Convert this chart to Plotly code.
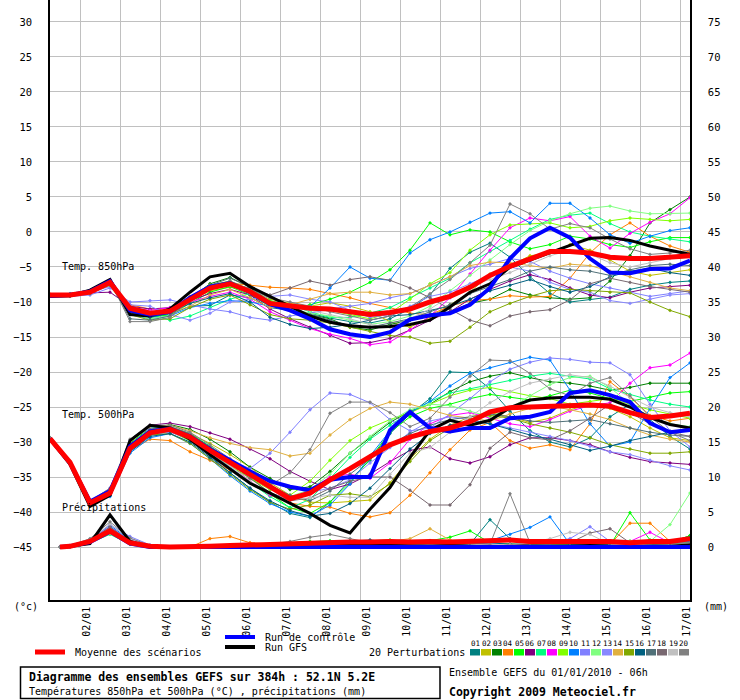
import plotly.graph_objects as go

# time axis (hours after 01/01/2010 06h), 12h steps
HOURS = list(range(0, 385, 12))
PR_HOURS = [6] + HOURS[1:]
DATE_TICKS = list(range(18, 379, 24))
DATE_LABELS = ["02/01", "03/01", "04/01", "05/01", "06/01", "07/01", "08/01", "09/01",
               "10/01", "11/01", "12/01", "13/01", "14/01", "15/01", "16/01", "17/01"]

TEMP_TICKS = [-45, -40, -35, -30, -25, -20, -15, -10, -5, 0, 5, 10, 15, 20, 25, 30]
MM_TICKS = [0, 5, 10, 15, 20, 25, 30, 35, 40, 45, 50, 55, 60, 65, 70, 75]

MEMBER_COLORS = ["#008080", "#C0C000", "#008000", "#FF8000", "#00FF00", "#800080", "#00FF80",
                 "#FF00FF", "#80FF00", "#0080FF", "#8080FF", "#80FF80", "#8888FF", "#E0B040",
                 "#80A800", "#006080", "#507078", "#786870", "#C0C0C0", "#808080"]

# ---- 850 hPa ----
mean_850 = [-9.0, -9.0, -8.6, -7.2, -10.9, -11.6, -11.3, -9.6, -8.0, -7.4, -8.5, -10.2, -10.6, -10.9, -11.0, -11.4,
            -11.8, -11.5, -11.0, -10.0, -9.2, -7.9, -6.2, -4.9, -3.8, -2.8, -2.8, -3.0, -3.6, -3.8, -3.8, -3.6, -3.4]
ctrl_850 = [-9.1, -9.0, -8.5, -7.0, -11.2, -11.8, -11.4, -9.4, -7.8, -7.3, -8.6, -10.3, -11.2, -12.4, -13.9, -14.6,
            -15.0, -14.3, -12.5, -11.9, -11.6, -10.4, -8.0, -3.8, -0.9, 0.6, -0.8, -3.8, -5.8, -5.9, -5.3, -5.2, -4.1]
gfs_850 = [-9.2, -9.1, -8.3, -6.8, -11.8, -12.0, -11.0, -8.6, -6.4, -5.9, -7.8, -9.2, -10.6, -12.0, -12.9, -13.4,
           -13.6, -13.5, -13.2, -12.6, -10.7, -8.6, -7.4, -5.0, -4.0, -2.9, -1.9, -0.9, -0.8, -1.2, -2.0, -2.6, -3.2]
pert_850 = [
    [-9.0, -9.1, -8.8, -7.4, -11.5, -12.0, -11.8, -10.6, -10.5, -9.0, -9.4, -10.8, -11.2, -11.6, -12.3, -12.8, -13.0, -12.4, -11.0, -9.0, -5.2, -2.9, -1.6, -3.6, -6.4, -8.8, -10.0, -9.6, -9.3, -8.2, -7.6, -7.2, -7.0],
    [-9.1, -9.0, -8.5, -7.0, -11.3, -11.9, -11.5, -9.8, -8.4, -7.9, -8.3, -9.6, -10.2, -10.6, -10.1, -10.6, -11.4, -12.8, -13.6, -12.2, -10.4, -8.6, -6.0, -4.8, -3.4, -3.0, -1.8, -2.6, -4.0, -5.6, -6.2, -5.8, -5.4],
    [-9.0, -8.9, -8.4, -7.1, -10.8, -11.4, -11.2, -9.5, -7.4, -6.5, -7.9, -10.4, -11.2, -11.8, -12.4, -13.6, -14.0, -13.2, -12.6, -12.0, -11.4, -10.2, -9.6, -8.2, -9.0, -9.4, -9.6, -9.4, -7.0, -3.4, 1.3, 3.2, 5.0],
    [-8.9, -9.0, -8.6, -7.3, -10.4, -11.0, -11.0, -9.2, -7.6, -7.3, -7.6, -7.9, -8.0, -8.2, -8.8, -9.4, -10.2, -10.8, -11.6, -11.8, -10.6, -9.8, -9.6, -9.1, -9.3, -9.2, -6.6, -3.0, -0.4, 1.3, -0.6, -2.0, -2.9],
    [-9.0, -9.1, -8.7, -7.5, -11.6, -12.2, -11.8, -10.2, -8.6, -7.8, -9.0, -10.6, -11.0, -10.4, -9.6, -8.6, -7.2, -5.4, -2.6, 1.3, -0.4, 0.3, 0.0, -1.4, -2.4, -1.8, -0.6, -1.0, -1.8, -2.2, -1.4, -0.8, -0.8],
    [-9.0, -9.0, -8.7, -8.6, -10.6, -11.0, -10.8, -9.8, -8.8, -8.2, -9.0, -11.0, -12.4, -13.6, -14.8, -15.9, -15.8, -15.2, -14.0, -12.6, -11.4, -9.6, -8.2, -7.0, -6.1, -6.8, -8.0, -9.0, -9.4, -8.6, -8.0, -7.8, -7.6],
    [-9.1, -9.0, -8.5, -7.2, -11.4, -11.8, -12.6, -12.0, -10.8, -9.6, -8.8, -9.8, -10.4, -11.4, -12.2, -12.2, -11.6, -10.8, -9.4, -8.0, -6.6, -4.4, -2.8, -1.2, 0.4, 1.8, 2.4, 2.7, 1.2, 0.0, -0.6, -1.0, -1.4],
    [-9.0, -9.0, -8.6, -7.4, -10.8, -11.2, -10.8, -10.0, -9.2, -8.6, -9.6, -11.4, -12.6, -13.8, -14.6, -15.2, -16.1, -15.7, -14.0, -12.0, -9.4, -6.0, -2.6, 0.6, 2.0, 1.6, 2.2, -0.6, -2.3, -0.2, 1.4, 2.6, 4.9],
    [-9.0, -9.1, -8.7, -7.4, -11.2, -11.8, -11.4, -9.4, -7.6, -7.0, -8.2, -9.8, -10.6, -10.8, -11.2, -11.8, -12.4, -11.6, -9.6, -7.4, -5.8, -2.6, -0.4, 1.0, 1.2, 1.3, 0.6, 0.8, 1.6, 2.0, 1.8, 1.6, 1.8],
    [-9.0, -8.8, -8.4, -7.0, -11.8, -12.4, -12.0, -10.8, -10.2, -9.8, -10.0, -10.6, -11.0, -10.7, -8.0, -5.0, -6.6, -6.9, -3.0, -1.1, 0.0, 1.4, 2.7, 2.9, 1.3, 4.1, 4.1, 2.0, -0.4, -1.6, -0.6, 0.2, 0.6],
    [-9.0, -9.2, -9.0, -8.0, -10.0, -9.8, -9.7, -10.4, -11.0, -11.4, -12.2, -12.6, -12.0, -11.6, -11.0, -10.6, -10.2, -9.4, -8.8, -7.6, -6.4, -5.2, -4.6, -3.8, -4.2, -5.6, -6.6, -7.4, -8.0, -8.6, -9.2, -8.8, -8.4],
    [-9.1, -9.0, -8.7, -7.3, -11.6, -12.4, -12.0, -10.0, -8.2, -7.6, -8.8, -10.2, -11.0, -11.6, -12.0, -12.6, -13.2, -12.8, -12.0, -10.6, -8.4, -6.2, -4.0, -1.8, 0.2, 1.6, 2.6, 3.4, 3.7, 3.0, 2.6, 2.6, 2.7],
    [-9.0, -9.1, -8.6, -7.8, -10.4, -10.6, -11.8, -12.6, -11.6, -10.0, -9.6, -9.2, -9.0, -9.6, -10.0, -11.2, -12.2, -11.8, -10.6, -9.2, -8.6, -7.4, -6.2, -5.0, -5.6, -7.2, -8.2, -8.6, -9.8, -10.2, -9.6, -9.0, -8.8],
    [-9.0, -9.0, -8.5, -7.1, -11.0, -11.6, -11.6, -10.6, -9.0, -8.2, -9.4, -10.8, -10.4, -9.6, -8.8, -8.6, -8.6, -9.0, -8.8, -7.6, -6.4, -4.8, -4.3, -4.4, -4.8, -5.2, -4.6, -4.8, -5.6, -6.4, -7.2, -8.0, -8.4],
    [-9.1, -9.1, -8.8, -7.6, -11.8, -12.6, -12.4, -10.8, -9.6, -9.0, -10.4, -11.8, -12.4, -12.6, -13.0, -13.6, -14.2, -14.8, -15.0, -15.9, -15.6, -13.6, -11.4, -10.2, -9.2, -8.4, -8.2, -8.4, -8.6, -8.7, -10.0, -11.2, -12.1],
    [-9.0, -9.0, -8.6, -7.2, -11.4, -12.2, -11.6, -10.2, -9.4, -8.8, -10.0, -12.2, -13.2, -13.8, -13.6, -13.2, -12.6, -12.0, -11.8, -11.2, -10.6, -9.6, -8.4, -7.6, -6.8, -7.8, -8.6, -7.8, -6.4, -5.6, -5.2, -5.8, -6.2],
    [-9.0, -9.1, -8.7, -7.2, -12.4, -12.6, -12.0, -9.6, -7.6, -6.6, -7.8, -10.0, -10.8, -11.8, -12.6, -13.4, -13.6, -13.0, -12.4, -11.4, -10.4, -8.8, -7.8, -6.8, -5.6, -5.0, -5.4, -5.6, -6.2, -5.4, -4.8, -4.6, -4.8],
    [-9.0, -9.0, -8.6, -7.0, -11.6, -12.0, -11.6, -9.8, -8.2, -7.4, -8.0, -9.0, -8.0, -7.0, -7.6, -6.8, -6.4, -6.9, -8.0, -9.4, -11.0, -12.6, -13.4, -12.0, -11.4, -11.1, -9.7, -7.4, -6.6, -7.2, -7.8, -8.2, -8.6],
    [-9.0, -9.0, -8.6, -7.3, -11.0, -11.4, -11.4, -9.6, -8.0, -7.2, -8.4, -10.2, -10.8, -11.2, -11.8, -12.4, -13.2, -13.6, -12.4, -11.0, -9.2, -7.6, -6.8, -5.8, -4.6, -3.4, -2.6, -3.2, -4.4, -5.0, -4.4, -3.8, -3.6],
    [-9.0, -9.0, -8.5, -6.9, -12.8, -12.8, -12.2, -9.8, -7.8, -7.0, -8.2, -9.4, -10.0, -10.6, -11.4, -12.0, -12.6, -12.0, -10.8, -8.8, -6.8, -4.4, -1.9, 4.0, 2.6, 0.4, 1.2, 0.6, -1.0, -2.4, -3.2, -3.0, -2.6],
]

# ---- 500 hPa ----
mean_500 = [-29.5, -32.9, -38.7, -37.3, -30.9, -28.7, -28.2, -29.3, -31.2, -32.9, -34.6, -36.4, -38.1, -37.3, -35.4, -33.8,
            -32.0, -30.4, -29.3, -28.5, -28.0, -27.1, -25.7, -25.1, -25.0, -24.9, -24.8, -24.7, -24.9, -25.8, -26.5, -26.3, -25.9]
ctrl_500 = [-29.5, -33.0, -38.5, -37.0, -30.6, -28.5, -28.1, -29.2, -31.0, -32.6, -34.2, -35.6, -36.4, -36.9, -35.4, -35.0,
            -35.0, -28.3, -25.7, -28.0, -28.5, -28.0, -28.0, -26.6, -26.4, -25.7, -23.0, -22.6, -23.3, -24.3, -27.3, -28.6, -28.3]
gfs_500 = [-29.6, -33.2, -39.2, -37.6, -29.8, -27.6, -28.0, -29.6, -31.8, -33.8, -35.9, -37.3, -38.8, -40.2, -41.9, -43.0,
           -39.6, -36.5, -32.2, -28.3, -26.9, -27.6, -26.9, -25.1, -24.0, -23.7, -23.6, -23.6, -23.9, -25.0, -26.5, -27.5, -28.0]
pert_500 = [
    [-29.5, -33.0, -38.9, -37.6, -31.4, -29.0, -28.4, -29.8, -32.0, -34.4, -36.6, -38.6, -40.2, -40.8, -38.6, -35.4, -32.6, -28.8, -26.0, -23.8, -20.0, -20.1, -22.4, -25.6, -28.4, -30.0, -30.7, -29.4, -26.4, -24.6, -26.8, -29.2, -31.0],
    [-29.4, -32.8, -38.6, -37.0, -30.4, -28.4, -28.0, -28.8, -30.2, -31.8, -33.6, -35.8, -37.6, -38.6, -38.7, -38.5, -38.3, -35.8, -32.4, -29.6, -27.6, -26.4, -25.8, -26.4, -27.2, -26.6, -25.4, -24.6, -25.2, -26.4, -28.0, -29.4, -29.8],
    [-29.6, -33.0, -38.8, -37.4, -30.8, -28.2, -27.5, -28.2, -29.6, -31.4, -33.6, -35.2, -36.8, -36.4, -34.2, -31.6, -29.4, -27.2, -25.6, -24.6, -22.8, -21.4, -20.6, -20.1, -20.8, -21.4, -21.6, -22.0, -22.6, -22.2, -21.6, -21.6, -21.6],
    [-29.5, -33.1, -38.7, -37.2, -31.2, -29.6, -29.8, -31.4, -32.6, -34.0, -35.8, -37.6, -38.7, -39.2, -39.3, -40.2, -40.7, -40.1, -37.6, -34.4, -31.1, -28.3, -27.2, -29.8, -30.9, -30.4, -31.1, -27.4, -21.4, -23.6, -26.2, -27.0, -26.6],
    [-29.5, -32.9, -38.5, -37.0, -30.2, -28.0, -27.8, -28.8, -30.6, -32.6, -35.0, -37.4, -39.4, -40.2, -38.6, -35.8, -32.4, -28.6, -26.4, -25.2, -24.6, -23.8, -23.2, -23.6, -24.0, -23.4, -22.6, -23.0, -23.8, -24.2, -23.6, -23.0, -22.8],
    [-29.5, -32.8, -38.4, -36.8, -30.0, -27.6, -27.3, -27.8, -28.7, -29.6, -31.0, -32.4, -34.2, -35.6, -36.8, -36.0, -34.6, -32.8, -31.2, -30.7, -32.4, -33.0, -32.1, -30.4, -29.4, -29.4, -29.8, -30.4, -31.4, -32.2, -32.8, -33.0, -33.2],
    [-29.5, -33.0, -38.8, -37.5, -31.0, -28.8, -28.4, -29.6, -31.6, -33.6, -35.8, -37.8, -39.4, -38.2, -35.2, -32.2, -29.6, -27.6, -25.8, -24.2, -23.0, -22.4, -21.8, -21.2, -20.6, -20.2, -20.6, -21.0, -22.4, -23.2, -24.0, -24.6, -25.0],
    [-29.5, -33.0, -38.6, -37.0, -30.8, -28.6, -28.0, -29.2, -31.0, -33.2, -35.6, -37.6, -38.2, -36.8, -35.0, -34.6, -35.2, -33.0, -29.6, -27.4, -26.2, -25.8, -26.6, -27.4, -27.8, -26.8, -25.6, -24.8, -24.4, -21.6, -19.4, -19.0, -17.3],
    [-29.5, -32.9, -38.7, -37.3, -31.0, -28.9, -28.5, -29.8, -31.6, -33.4, -35.2, -36.8, -37.6, -35.6, -32.6, -29.8, -28.0, -26.8, -25.8, -24.6, -23.4, -22.6, -22.2, -22.8, -23.4, -23.8, -24.6, -24.2, -23.8, -24.6, -25.4, -26.0, -26.6],
    [-29.5, -33.1, -39.0, -37.8, -31.6, -29.4, -28.8, -30.2, -32.4, -34.8, -37.0, -38.8, -40.0, -40.6, -39.0, -36.0, -32.0, -28.4, -25.8, -24.2, -22.0, -20.2, -19.4, -18.6, -17.9, -18.3, -22.6, -27.4, -30.6, -30.0, -25.2, -20.8, -18.7],
    [-29.5, -32.8, -38.5, -36.6, -29.8, -28.0, -28.0, -29.2, -31.0, -32.6, -33.8, -31.6, -28.6, -25.4, -23.0, -23.2, -24.4, -26.8, -28.4, -28.0, -26.0, -23.8, -21.4, -19.6, -18.6, -18.0, -18.2, -18.6, -18.7, -20.4, -24.6, -28.4, -30.7],
    [-29.5, -32.9, -38.6, -37.2, -30.6, -28.4, -28.2, -29.4, -31.4, -33.2, -35.0, -36.6, -37.8, -36.8, -34.6, -31.6, -29.2, -27.0, -25.4, -24.6, -24.8, -25.6, -26.4, -25.2, -23.4, -21.8, -20.8, -20.6, -22.2, -24.6, -26.4, -27.4, -27.8],
    [-29.6, -33.0, -38.8, -37.4, -31.2, -29.0, -28.6, -29.6, -31.6, -33.6, -35.8, -37.4, -38.0, -37.2, -36.6, -35.4, -33.0, -30.8, -28.6, -27.0, -26.4, -26.8, -27.4, -28.0, -28.6, -29.2, -29.8, -30.6, -31.4, -31.8, -32.6, -33.4, -34.0],
    [-29.5, -32.8, -38.5, -36.8, -30.0, -27.8, -27.6, -28.4, -29.4, -30.2, -30.8, -31.1, -32.0, -31.6, -29.0, -26.8, -25.2, -24.3, -24.6, -25.4, -26.2, -26.6, -27.0, -26.0, -25.2, -24.8, -25.4, -26.0, -26.8, -28.0, -29.0, -29.6, -30.0],
    [-29.5, -33.0, -38.8, -37.4, -31.0, -29.0, -28.8, -30.2, -32.4, -34.6, -36.8, -38.6, -39.6, -39.0, -37.6, -37.4, -37.8, -36.0, -32.8, -29.8, -28.0, -26.8, -26.2, -26.6, -27.4, -28.0, -28.6, -29.4, -30.4, -31.0, -31.6, -31.6, -31.4],
    [-29.5, -33.0, -38.9, -37.6, -31.4, -29.2, -28.8, -30.0, -32.2, -34.4, -36.6, -38.4, -39.8, -40.6, -40.2, -38.8, -36.6, -33.8, -31.0, -28.8, -27.6, -27.0, -27.4, -28.2, -29.0, -29.6, -30.4, -31.2, -30.6, -29.8, -29.2, -28.6, -28.0],
    [-29.5, -32.9, -38.7, -37.2, -30.6, -28.4, -28.0, -29.0, -30.8, -32.6, -34.4, -36.2, -37.6, -38.4, -37.0, -34.6, -32.4, -30.4, -28.8, -27.6, -26.8, -26.4, -26.0, -26.4, -27.0, -27.2, -27.0, -26.8, -27.4, -28.0, -28.6, -29.0, -29.2],
    [-29.5, -32.9, -38.6, -37.1, -30.4, -28.2, -27.8, -28.8, -30.8, -33.0, -35.2, -37.2, -38.4, -38.0, -36.6, -35.6, -35.0, -35.0, -36.9, -39.0, -39.0, -36.1, -30.9, -28.6, -29.4, -29.7, -28.4, -26.6, -24.6, -25.8, -27.4, -28.6, -29.2],
    [-29.5, -33.0, -38.7, -37.3, -30.8, -28.6, -28.2, -29.4, -31.4, -33.4, -35.6, -37.4, -38.2, -38.0, -37.6, -37.9, -37.9, -34.6, -31.6, -30.8, -28.6, -26.4, -24.4, -22.8, -21.6, -21.0, -20.4, -20.8, -22.0, -23.6, -25.0, -25.8, -26.4],
    [-29.4, -32.8, -38.4, -36.6, -29.6, -27.6, -27.6, -28.6, -30.4, -32.4, -34.6, -36.2, -34.4, -31.1, -25.9, -24.3, -24.3, -25.8, -27.8, -26.6, -23.6, -20.6, -18.3, -18.4, -20.2, -22.4, -23.4, -21.6, -20.8, -23.4, -26.4, -28.6, -29.8],
]

# ---- precipitation (mm) ----
mean_pr = [0.0, 0.1, 0.8, 2.3, 0.6, 0.1, 0.0, 0.0, 0.1, 0.2, 0.3, 0.4, 0.5, 0.6, 0.6, 0.7,
           0.7, 0.8, 0.7, 0.8, 0.7, 0.8, 0.9, 1.0, 0.8, 0.8, 0.7, 0.8, 0.8, 0.6, 0.8, 0.8, 1.2]
ctrl_pr = [0.0, 0.1, 0.7, 2.2, 0.5, 0.0, 0.0, 0.0, 0.0, 0.0, 0.0, 0.0, 0.0, 0.0, 0.0, 0.0,
           0.0, 0.0, 0.0, 0.0, 0.0, 0.0, 0.0, 0.0, 0.0, 0.0, 0.0, 0.0, 0.0, 0.0, 0.0, 0.0, 0.0]
gfs_pr = [0.0, 0.1, 0.5, 4.6, 0.8, 0.0, 0.0, 0.0, 0.0, 0.0, 0.0, 0.1, 0.2, 0.3, 0.4, 0.2,
          0.3, 0.2, 0.1, 0.1, 0.2, 0.1, 0.0, 0.1, 0.1, 0.0, 0.1, 0.2, 0.1, 0.0, 0.1, 0.1, 0.3]
pert_pr = [
    [0, 0.1, 0.8, 2.6, 0.6, 0, 0, 0, 0, 0.1, 0.2, 0.3, 0.4, 0.2, 0.6, 0.4, 0.3, 0.5, 0.2, 0.3, 0.4, 0.4, 3.9, 1.2, 0.3, 0.2, 0.1, 0.3, 0.4, 0.2, 0.3, 0.5, 0.6],
    [0, 0.1, 0.6, 2.0, 0.5, 0, 0, 0, 0, 0, 0.2, 0.4, 0.5, 0.8, 0.6, 0.3, 0.2, 0.2, 0.4, 0.6, 0.3, 0.2, 0.1, 0.2, 0.3, 0.2, 0.2, 0.4, 0.3, 0.2, 0.2, 0.3, 0.5],
    [0, 0.1, 0.9, 2.4, 0.7, 0, 0, 0, 0, 0, 0.1, 0.2, 0.3, 0.3, 0.4, 0.6, 0.5, 0.4, 0.3, 0.2, 0.3, 0.3, 0.2, 0.3, 0.4, 0.5, 0.3, 0.2, 0.6, 0.8, 0.5, 0.7, 1.6],
    [0, 0.2, 1.0, 2.8, 0.8, 0.1, 0, 0, 1.2, 1.5, 0.6, 0.4, 0.3, 0.2, 0.2, 0.1, 0.2, 0.3, 0.4, 0.5, 0.6, 0.3, 0.2, 0.2, 0.4, 0.5, 0.3, 0.2, 0.4, 3.4, 3.4, 0.8, 1.0],
    [0, 0.1, 0.7, 2.2, 0.6, 0, 0, 0, 0, 0, 0.2, 0.3, 0.6, 0.8, 0.9, 0.8, 0.9, 1.0, 0.6, 0.9, 1.4, 2.3, 0.6, 0.4, 0.3, 0.2, 0.4, 0.3, 0.2, 4.9, 1.0, 0.6, 1.6],
    [0, 0.1, 0.8, 2.1, 0.5, 0, 0, 0, 0, 0, 0, 0.1, 0.2, 0.3, 0.4, 0.5, 0.4, 0.3, 0.2, 0.4, 0.3, 0.2, 0.1, 0.2, 0.3, 0.6, 0.4, 0.3, 0.2, 0.1, 0.2, 0.3, 0.4],
    [0, 0.1, 0.6, 1.8, 0.4, 0, 0, 0, 0, 0, 0.1, 0.3, 0.5, 0.7, 0.6, 0.5, 0.7, 0.6, 0.5, 0.4, 0.6, 0.8, 0.4, 0.3, 0.5, 0.4, 0.5, 0.3, 0.4, 0.5, 0.7, 0.5, 0.6],
    [0, 0.2, 0.9, 2.9, 0.9, 0.1, 0, 0, 0, 0, 0.2, 0.4, 0.5, 0.4, 0.6, 0.7, 0.5, 0.4, 0.7, 0.9, 0.4, 0.3, 0.2, 0.3, 0.2, 0.4, 0.3, 0.5, 0.6, 0.8, 2.1, 0.6, 0.8],
    [0, 0.1, 0.7, 2.3, 0.7, 0, 0, 0, 0, 0, 0.1, 0.2, 0.4, 0.5, 0.3, 0.2, 0.4, 0.5, 0.6, 0.4, 0.3, 0.5, 0.4, 0.3, 0.2, 0.3, 0.5, 0.4, 0.3, 0.5, 0.4, 0.3, 0.5],
    [0, 0.2, 1.1, 3.1, 1.0, 0.2, 0, 0, 0, 0, 0, 0.1, 0.2, 0.4, 0.3, 0.2, 0.3, 0.2, 0.3, 0.4, 0.2, 0.3, 0.9, 1.8, 2.8, 4.3, 0.4, 0.2, 0.3, 0.5, 0.4, 0.6, 0.8],
    [0, 0.1, 0.9, 3.2, 1.5, 0.3, 0, 0, 0, 0, 0.1, 0.2, 0.3, 0.3, 0.4, 0.3, 0.2, 0.4, 0.3, 0.2, 0.3, 0.2, 0.4, 0.3, 0.5, 0.6, 1.2, 2.9, 0.8, 0.4, 0.3, 0.2, 0.4],
    [0, 0.1, 0.8, 2.5, 0.6, 0, 0, 0, 0, 0, 0.2, 0.3, 0.2, 0.4, 0.3, 0.4, 0.6, 0.5, 0.4, 0.3, 0.4, 0.3, 0.5, 0.4, 0.3, 0.2, 0.4, 0.5, 0.6, 0.9, 0.8, 3.2, 7.7],
    [0, 0.1, 0.7, 2.6, 1.2, 0.2, 0, 0, 0, 0, 0.1, 0.3, 0.4, 0.5, 0.4, 0.3, 0.4, 0.5, 0.4, 0.3, 0.2, 0.4, 0.5, 0.3, 0.4, 0.6, 0.5, 0.4, 0.3, 0.4, 0.3, 0.4, 0.5],
    [0, 0.1, 0.6, 1.9, 0.5, 0, 0, 0, 0, 0, 0.1, 0.2, 0.3, 0.2, 0.3, 0.4, 0.6, 0.8, 1.2, 2.6, 1.0, 0.4, 0.3, 0.2, 0.3, 0.2, 0.3, 0.2, 0.4, 0.3, 0.2, 0.3, 0.4],
    [0, 0.1, 0.8, 2.2, 0.6, 0, 0, 0, 0, 0, 0.1, 0.2, 0.3, 0.4, 0.3, 0.2, 0.3, 0.4, 0.5, 0.3, 0.2, 0.3, 0.4, 0.2, 0.3, 0.4, 0.3, 0.2, 0.3, 0.4, 0.3, 0.4, 0.6],
    [0, 0.1, 0.7, 2.4, 0.7, 0, 0, 0, 0, 0, 0.2, 0.4, 0.6, 0.5, 0.7, 0.8, 1.0, 0.7, 0.5, 0.4, 0.3, 0.4, 0.6, 0.4, 0.3, 0.2, 0.3, 0.4, 0.3, 0.2, 0.3, 0.5, 1.4],
    [0, 0.1, 0.8, 2.7, 0.9, 0.1, 0, 0, 0, 0, 0.1, 0.3, 0.4, 0.3, 0.5, 0.4, 0.3, 0.2, 0.4, 0.5, 0.3, 0.2, 0.3, 0.4, 0.5, 0.3, 0.2, 0.3, 0.4, 0.3, 0.2, 0.3, 0.4],
    [0, 0.1, 0.9, 2.9, 0.8, 0.1, 0, 0, 0, 0, 0.1, 0.2, 0.3, 0.4, 0.5, 0.3, 0.2, 0.3, 0.4, 0.3, 0.2, 0.3, 0.2, 0.3, 0.4, 0.5, 0.6, 2.0, 2.6, 0.6, 0.4, 0.3, 0.5],
    [0, 0.2, 1.0, 3.3, 1.1, 0.1, 0, 0, 0, 0, 0.1, 0.2, 0.3, 0.2, 0.3, 0.4, 0.3, 0.2, 0.3, 0.4, 0.2, 0.3, 0.4, 0.3, 0.6, 1.2, 2.1, 1.8, 0.4, 0.3, 0.2, 0.3, 0.5],
    [0, 0.2, 1.2, 3.6, 1.3, 0.2, 0, 0, 0, 0, 0.2, 0.4, 0.8, 1.4, 1.8, 1.2, 0.6, 0.4, 0.3, 0.4, 0.3, 0.5, 0.4, 7.6, 0.6, 0.3, 0.2, 0.4, 0.5, 0.3, 0.4, 0.5, 0.6],
]

FONT = "DejaVu Sans Mono"
T_RANGE = [-52.57, 33.14]


def px(x):
    # page pixel -> paper x (plot area spans 50..690)
    return (x - 50) / 640


def py(y):
    # page pixel -> paper y (plot area spans 0..600)
    return (600 - y) / 600


def note(x, y, text, anchor="left", size=10):
    return dict(x=px(x), y=py(y), xref="paper", yref="paper", text=text, xanchor=anchor,
                yanchor="middle", showarrow=False, font=dict(size=size))


fig = go.Figure()

for series, hours, axis in [(pert_850, HOURS, "y"), (pert_500, HOURS, "y"), (pert_pr, PR_HOURS, "y2")]:
    for i, vals in enumerate(series):
        fig.add_trace(go.Scatter(x=hours, y=vals, yaxis=axis, mode="lines+markers",
                                 line=dict(color=MEMBER_COLORS[i], width=1),
                                 marker=dict(color=MEMBER_COLORS[i], size=3, symbol="diamond"),
                                 showlegend=False, hoverinfo="skip"))

for gfs, ctrl, mean, hours, axis in [(gfs_850, ctrl_850, mean_850, HOURS, "y"),
                                     (gfs_500, ctrl_500, mean_500, HOURS, "y"),
                                     (gfs_pr, ctrl_pr, mean_pr, PR_HOURS, "y2")]:
    fig.add_trace(go.Scatter(x=hours, y=gfs, yaxis=axis, mode="lines",
                             line=dict(color="black", width=3), showlegend=False))
    fig.add_trace(go.Scatter(x=hours, y=ctrl, yaxis=axis, mode="lines",
                             line=dict(color="#0000FF", width=4), showlegend=False))
    fig.add_trace(go.Scatter(x=hours, y=mean, yaxis=axis, mode="lines",
                             line=dict(color="#FF0000", width=5), showlegend=False))

annotations = [
    dict(x=6, y=-4.9, xref="x", yref="y", text="Temp. 850hPa", xanchor="left", showarrow=False),
    dict(x=6, y=-26.0, xref="x", yref="y", text="Temp. 500hPa", xanchor="left", showarrow=False),
    dict(x=6, y=-39.3, xref="x", yref="y", text="Précipitations", xanchor="left", showarrow=False),
    note(26, 606, "(°c)", "center"),
    note(716, 606, "(mm)", "center"),
    note(73, 652, "Moyenne des scénarios"),
    note(263, 637, "Run de contrôle"),
    note(263, 647, "Run GFS"),
    note(367, 652, "20 Perturbations"),
    note(27, 677, "<b>Diagramme des ensembles GEFS sur 384h : 52.1N 5.2E</b>", size=11.5),
    note(27, 691, "Températures 850hPa et 500hPa (°C) , précipitations (mm)"),
    note(447, 672, "Ensemble GEFS du 01/01/2010 - 06h"),
    note(447, 692, "<b>Copyright 2009 Meteociel.fr</b>", size=11.5),
]

shapes = [
    dict(type="line", xref="paper", yref="paper", x0=px(35), x1=px(65), y0=py(652), y1=py(652),
         line=dict(color="#FF0000", width=5)),
    dict(type="line", xref="paper", yref="paper", x0=px(225), x1=px(255), y0=py(637), y1=py(637),
         line=dict(color="#0000FF", width=4)),
    dict(type="line", xref="paper", yref="paper", x0=px(225), x1=px(255), y0=py(647), y1=py(647),
         line=dict(color="black", width=4)),
    dict(type="rect", xref="paper", yref="paper", x0=px(20.5), x1=px(440), y0=py(667), y1=py(698.5),
         line=dict(color="black", width=1.5)),
]

for i, c in enumerate(MEMBER_COLORS):
    x0 = 470 + 11 * i
    shapes.append(dict(type="rect", xref="paper", yref="paper", x0=px(x0), x1=px(x0 + 10),
                       y0=py(655.5), y1=py(649), line=dict(width=0), fillcolor=c))
    annotations.append(note(x0 + 5, 643, "%02d" % (i + 1), "center", 7.5))

fig.update_layout(
    width=740, height=700,
    margin=dict(l=50, r=50, t=0, b=100),
    paper_bgcolor="white", plot_bgcolor="white",
    font=dict(family=FONT, size=10, color="black"),
    showlegend=False,
    xaxis=dict(range=[0, 384], tickvals=DATE_TICKS, ticktext=DATE_LABELS, tickangle=-90,
               showgrid=True, gridcolor="#C0C0C0", gridwidth=1, zeroline=False,
               showline=True, linecolor="black", linewidth=1.5, ticks="",
               ticklabelshift=7, ticklabelstandoff=1, tickfont=dict(size=10)),
    yaxis=dict(range=T_RANGE, tickvals=TEMP_TICKS, showgrid=True, gridcolor="#C0C0C0", gridwidth=1,
               zeroline=False, showline=True, linecolor="black", linewidth=1.5, ticks="",
               ticklabelstandoff=14, tickfont=dict(size=10.5)),
    yaxis2=dict(range=[T_RANGE[0] + 45, T_RANGE[1] + 45], tickvals=MM_TICKS, overlaying="y", side="right",
                showgrid=False, zeroline=False, showline=True, linecolor="black", linewidth=1.5, ticks="",
                ticklabelstandoff=14, tickfont=dict(size=10.5)),
    annotations=annotations,
    shapes=shapes,
)

# the page's default body margin would push the chart 8px down and right
fig.write_html("out.html", config={"displayModeBar": False},
               post_script="document.body.style.margin='0px';")
